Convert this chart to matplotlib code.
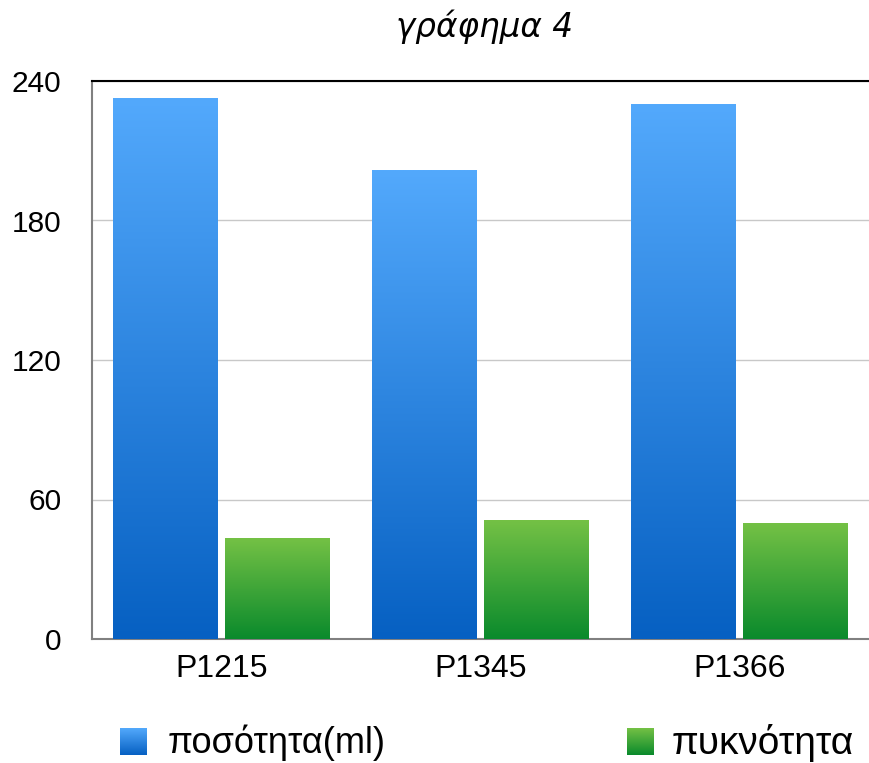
import numpy as np
import matplotlib
matplotlib.use("Agg")
import matplotlib.pyplot as plt
from matplotlib.colors import LinearSegmentedColormap

plt.rcParams['font.family'] = ['Liberation Sans', 'DejaVu Sans']

# Data
categories = ["P1215", "P1345", "P1366"]
quantity_ml = [232.3, 201.7, 230.1]
density = [43.4, 50.8, 49.5]
series_labels = ["ποσότητα(ml)", "πυκνότητα"]
y_ticks = [0, 60, 120, 180, 240]
title = "γράφημα 4"

blue_cmap = LinearSegmentedColormap.from_list("blue_grad", ["#0660c2", "#53a9fc"])
green_cmap = LinearSegmentedColormap.from_list("green_grad", ["#0a8a2c", "#74c145"])

fig = plt.figure(figsize=(8.69, 7.63), dpi=100)
ax = fig.add_axes([92 / 869, 124 / 763, 777 / 869, 558 / 763])

x = np.arange(len(categories))
bw = 0.405
offset = 0.2175
bars_q = ax.bar(x - offset, quantity_ml, width=bw, color="none", zorder=3)
bars_d = ax.bar(x + offset, density, width=bw, color="none", zorder=3)

grad = np.linspace(0, 1, 256).reshape(-1, 1)


def fill_gradient(bars, cmap):
    for b in bars:
        x0, w, h = b.get_x(), b.get_width(), b.get_height()
        ax.imshow(grad, cmap=cmap, origin="lower", aspect="auto",
                  extent=[x0, x0 + w, 0, h], zorder=3, interpolation="bilinear")


fill_gradient(bars_q, blue_cmap)
fill_gradient(bars_d, green_cmap)

ax.set_xlim(-0.5, len(categories) - 0.5)
ax.set_ylim(0, 240)
ax.set_yticks(y_ticks)
ax.set_yticklabels([str(t) for t in y_ticks], fontsize=21.5)
ax.set_xticks(x)
ax.set_xticklabels(categories, fontsize=23)
ax.tick_params(axis="both", length=0)
ax.tick_params(axis="y", pad=22)
ax.tick_params(axis="x", pad=11)

ax.yaxis.grid(True, color="#c8c8c8", linewidth=1.0, zorder=0)
ax.set_axisbelow(True)
ax.spines["right"].set_visible(False)
ax.spines["top"].set_color("black")
ax.spines["top"].set_linewidth(1.5)
ax.spines["left"].set_color("#808080")
ax.spines["left"].set_linewidth(1.5)
ax.spines["bottom"].set_color("#808080")
ax.spines["bottom"].set_linewidth(1.5)

fig.text(484 / 869, 1 - 27 / 763, title, ha="center", va="center",
         fontsize=23.5, style="italic", family=["DejaVu Sans"])

# Legend with gradient swatches
swatches = [(120, blue_cmap, series_labels[0], 168, 26), (627, green_cmap, series_labels[1], 672, 28)]
for px, cmap, label, tx, fs in swatches:
    sax = fig.add_axes([px / 869, 1 - 755 / 763, 27 / 869, 27 / 763])
    sax.imshow(grad, cmap=cmap, origin="lower", aspect="auto")
    sax.axis("off")
    fig.text(tx / 869, 1 - 743 / 763, label, ha="left", va="center", fontsize=fs)

fig.savefig("out.png", dpi=100)
